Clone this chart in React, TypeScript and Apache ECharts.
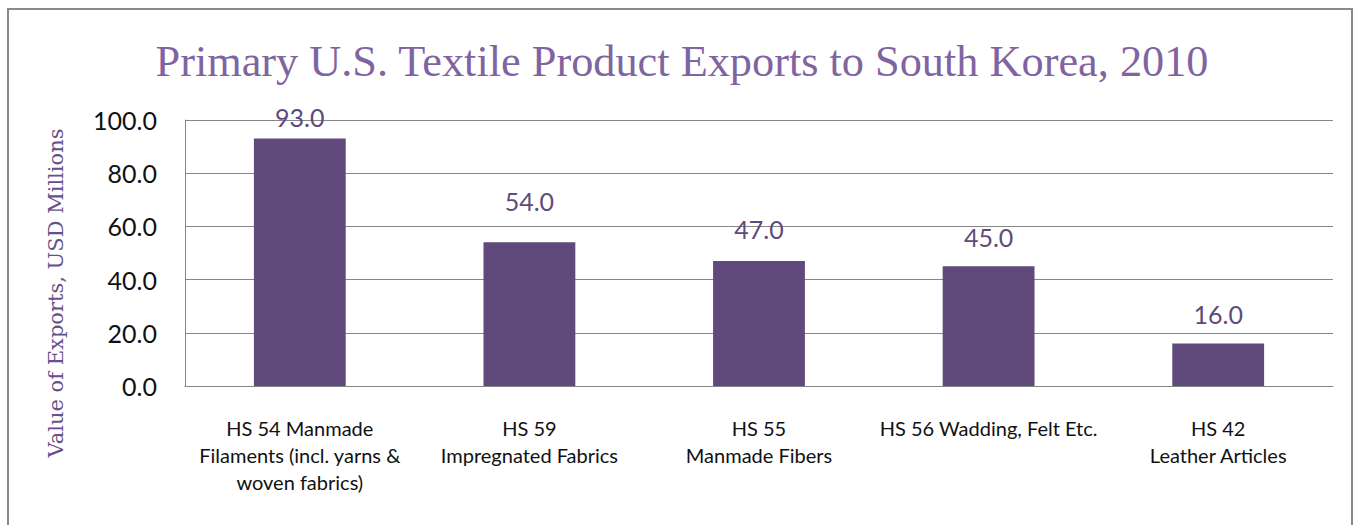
import React, { useEffect, useRef } from "react";
import * as echarts from "echarts";

const categories = [
  "HS 54 Manmade\nFilaments (incl. yarns &\nwoven fabrics)",
  "HS 59\nImpregnated Fabrics",
  "HS 55\nManmade Fibers",
  "HS 56 Wadding, Felt Etc.",
  "HS 42\nLeather Articles",
];
const exportValues = [93.0, 54.0, 47.0, 45.0, 16.0];
const yTicks = { min: 0, max: 100, interval: 20 };
const labelDistances = [9, 29, 19, 17, 17];

const titleText = "Primary U.S. Textile Product Exports to South Korea, 2010";
const yAxisName = "Value of Exports, USD Millions";

export default function App() {
  const ref = useRef<HTMLDivElement>(null);
  useEffect(() => {
    if (!ref.current) return;
    const chart = echarts.init(ref.current, null, { renderer: "svg" });
    chart.setOption({
      animation: false,
      backgroundColor: "#ffffff",
      title: {
        text: titleText,
        left: "center",
        top: 34,
        textStyle: {
          fontFamily: "Liberation Serif",
          fontSize: 44.3,
          fontWeight: "normal",
          color: "#8064a2",
        },
      },
      graphic: [
        {
          type: "rect",
          shape: { x: 8, y: 9, width: 1344, height: 600 },
          style: { fill: "none", stroke: "#8a8a8a", lineWidth: 2 },
          silent: true,
        },
        {
          type: "text",
          x: 56,
          y: 293,
          rotation: Math.PI / 2,
          style: {
            text: yAxisName,
            fontFamily: "DejaVu Serif",
            fontSize: 21,
            fill: "#65508a",
            align: "center",
            verticalAlign: "middle",
          },
        },
      ],
      grid: { left: 185, right: 31, top: 120, bottom: 139 },
      xAxis: {
        type: "category",
        data: categories,
        axisLine: { show: true, lineStyle: { color: "#868686", width: 1 } },
        axisTick: { show: false },
        axisLabel: {
          interval: 0,
          margin: 28,
          color: "#111111",
          fontFamily: "Lato",
          fontSize: 20,
          lineHeight: 27,
        },
      },
      yAxis: {
        type: "value",
        min: yTicks.min,
        max: yTicks.max,
        interval: yTicks.interval,
        axisLine: { show: true, lineStyle: { color: "#868686", width: 1 } },
        axisTick: { show: false },
        splitLine: { show: true, lineStyle: { color: "#868686", width: 1 } },
        axisLabel: {
          margin: 28,
          color: "#111111",
          fontFamily: "Lato",
          fontSize: 25,
          formatter: (v: number) => v.toFixed(1),
        },
      },
      series: [
        {
          type: "bar",
          data: exportValues.map((v, i) => ({
            value: v,
            label: { distance: labelDistances[i] },
          })),
          barWidth: "40%",
          itemStyle: { color: "#604a7b" },
          label: {
            show: true,
            position: "top",
            color: "#604a7b",
            fontFamily: "Lato",
            fontSize: 25,
            lineHeight: 25,
            formatter: (p: any) => Number(p.value).toFixed(1),
          },
        },
      ],
    });
    return () => chart.dispose();
  }, []);
  return (
    <div
      ref={ref}
      style={{ position: "fixed", left: 0, top: 0, width: 1364, height: 525 }}
    />
  );
}
